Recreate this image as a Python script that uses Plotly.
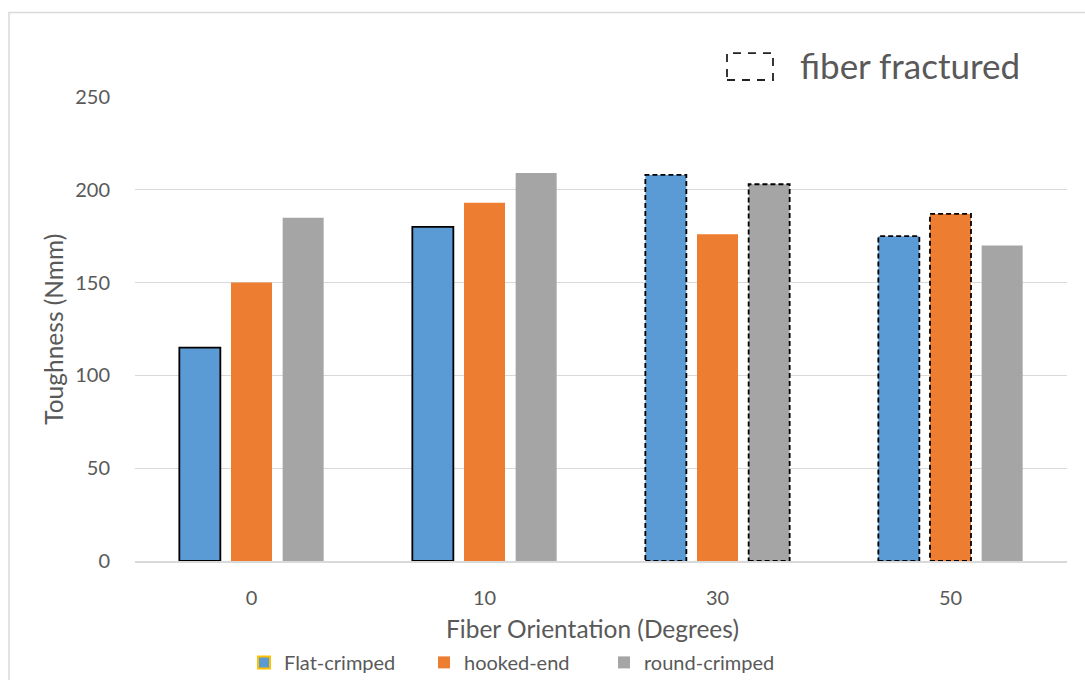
import plotly.graph_objects as go

# Toughness by fiber orientation for three steel-fiber geometries
orientations = ["0", "10", "30", "50"]
series_names = ["Flat-crimped", "hooked-end", "round-crimped"]
flat_crimped = [115, 180, 208, 175]
hooked_end = [150, 193, 176, 187]
round_crimped = [185, 209, 203, 170]

# Outline of each bar: "solid", "dash" (fiber fractured) or None
flat_outline = ["solid", "solid", "dash", "dash"]
hooked_outline = [None, None, None, "dash"]
round_outline = [None, None, "dash", None]

colors = ["#5B9BD5", "#ED7D31", "#A5A5A5"]
legend_edge = ["#FFC000", None, None]
TEXT = "#595959"
GRID = "#D9D9D9"
FONT = "Lato, Carlito, Calibri, sans-serif"

W, H = 1085, 680
L, R, T, B = 135, 18, 97, 118.5
PW, PH = W - L - R, H - T - B


def px_x(px):
    return (px - L) / PW


def px_y(py):
    return (H - B - py) / PH


bar_width = 0.176
step = 0.2217
offsets = [-step - bar_width / 2, -bar_width / 2, step - bar_width / 2]

values = [flat_crimped, hooked_end, round_crimped]
outlines = [flat_outline, hooked_outline, round_outline]
xs = list(range(len(orientations)))

fig = go.Figure()
for name, vals, col, off in zip(series_names, values, colors, offsets):
    fig.add_trace(go.Bar(
        x=xs, y=vals, name=name, showlegend=False,
        width=bar_width, offset=off,
        marker=dict(color=col, line=dict(width=0)),
    ))

# legend entries
for name, col, edge in zip(series_names, colors, legend_edge):
    fig.add_trace(go.Bar(
        x=[None], y=[None], name=name,
        marker=dict(color=col, line=dict(color=edge or col, width=2 if edge else 0)),
    ))

shapes = []
for vals, outs, off in zip(values, outlines, offsets):
    for i, (v, o) in enumerate(zip(vals, outs)):
        if o is None:
            continue
        shapes.append(dict(
            type="rect", xref="x", yref="y",
            x0=i + off, x1=i + off + bar_width, y0=0, y1=v,
            line=dict(color="black", width=1.8, dash="solid" if o == "solid" else "5px,3px"),
            layer="above",
        ))

# key for dashed outline
shapes.append(dict(
    type="rect", xref="paper", yref="paper",
    x0=px_x(727), x1=px_x(773), y0=px_y(80), y1=px_y(53),
    line=dict(color="#222222", width=1.8, dash="8px,7px"),
))
# outer chart border
shapes.append(dict(
    type="rect", xref="paper", yref="paper",
    x0=px_x(9), x1=px_x(1100), y0=px_y(700), y1=px_y(12.5),
    line=dict(color=GRID, width=1.5),
))

annotations = [
    dict(text="fiber fractured", xref="paper", yref="paper",
         x=px_x(798), y=px_y(65), xanchor="left", yanchor="middle",
         showarrow=False, font=dict(size=35, color=TEXT, family=FONT)),
    dict(text="Fiber Orientation (Degrees)", xref="paper", yref="paper",
         x=px_x(592), y=px_y(629), xanchor="center", yanchor="middle",
         showarrow=False, font=dict(size=24.5, color=TEXT, family=FONT)),
    dict(text="Toughness (Nmm)", xref="paper", yref="paper",
         x=px_x(54), y=px_y(330), xanchor="center", yanchor="middle",
         textangle=-90, showarrow=False, font=dict(size=24.5, color=TEXT, family=FONT)),
]

fig.update_layout(
    width=W, height=H,
    margin=dict(l=L, r=R, t=T, b=B, autoexpand=False),
    paper_bgcolor="white", plot_bgcolor="white",
    barmode="overlay",
    font=dict(family=FONT, color=TEXT, size=20),
    shapes=shapes, annotations=annotations,
    showlegend=True,
    legend=dict(
        orientation="h", x=px_x(244), y=px_y(663),
        xanchor="left", yanchor="middle",
        font=dict(size=20, color=TEXT, family=FONT),
        entrywidth=135, itemwidth=30,
        bgcolor="rgba(0,0,0,0)",
    ),
)
fig.update_xaxes(
    range=[-0.5, len(orientations) - 0.5],
    tickmode="array", tickvals=xs, ticktext=orientations,
    showgrid=False, zeroline=False,
    showline=True, linecolor=GRID, linewidth=1.5,
    ticks="", ticklabelstandoff=18,
    tickfont=dict(size=20, color=TEXT, family=FONT),
)
fig.update_yaxes(
    range=[0, 250], tickvals=[0, 50, 100, 150, 200, 250],
    showgrid=True, gridcolor=GRID, gridwidth=1.3,
    zeroline=False, showline=False, ticks="",
    ticklabelstandoff=24,
    tickfont=dict(size=20, color=TEXT, family=FONT),
)

fig.write_html("out.html")
